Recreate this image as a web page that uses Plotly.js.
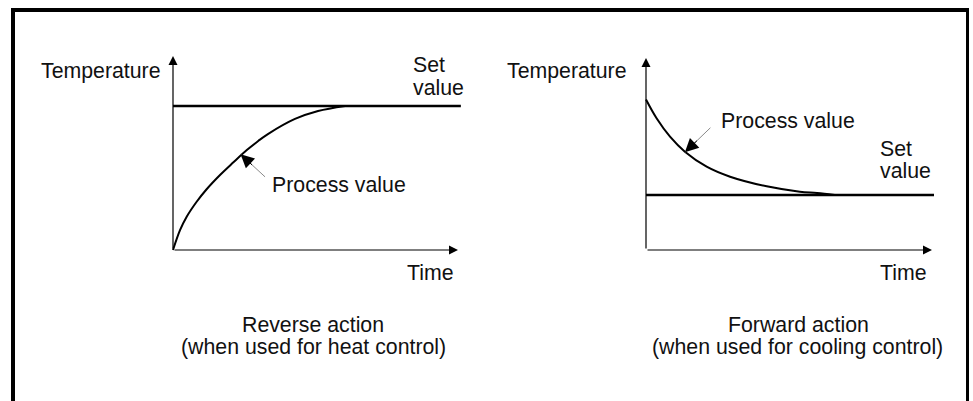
<!DOCTYPE html>
<html>
<head>
<meta charset="utf-8">
<script src="https://cdn.plot.ly/plotly-3.0.1.min.js"></script>
<style>html,body{margin:0;padding:0;background:#fff;}#chart{width:973px;height:401px;}</style>
</head>
<body>
<div id="chart"></div>
<script>
// ---- Data (arbitrary units) ----
// Reverse action (heat control)
const leftTime    = [0, 0.25, 0.48, 0.83, 1.18, 1.65, 2.12, 2.59, 2.99, 3.33, 4.28, 5.09, 6.04];
const leftProcess = [0, 13.9, 23.1, 33.5, 42.2, 52.1, 60.9, 69.4, 75.7, 80.5, 91.0, 96.5, 100];
const leftSetTime = [0, 10.1];
const leftSet     = [100, 100];
// Forward action (cooling control)
const rightTime    = [0, 0.37, 0.84, 1.36, 2.12, 2.94, 4.22, 5.38, 5.98, 6.6];
const rightProcess = [273.6, 239.5, 206, 178.7, 151.5, 133.3, 115.8, 106, 103.6, 100];
const rightSetTime = [0, 10.07];
const rightSet     = [100, 100];
// Axis extents (arrow tips)
const leftAxisEnd  = {t: 10, temp: 134.7};
const rightAxisEnd = {t: 10, temp: 349};
// Texts
const yLabel = 'Temperature';
const xLabel = 'Time';
const processLabel = 'Process value';
const setLabel = ['Set', 'value'];
const leftCaption  = ['Reverse action', '(when used for heat control)'];
const rightCaption = ['Forward action', '(when used for cooling control)'];

// ---- Layout helpers (pixel -> paper) ----
const W = 973, H = 401;
const px = x => x / W;
const py = y => 1 - y / H;
function frame(ox, oy, sx, sy, x0, x1, y0, y1) {
  return {
    xdomain: [px(x0), px(x1)], ydomain: [py(y1), py(y0)],
    xrange: [(x0 - ox) / sx, (x1 - ox) / sx],
    yrange: [(oy - y1) / sy, (oy - y0) / sy]
  };
}
const L = frame(173, 250, 28.5, 1.44, 165, 466, 48, 256);
const R = frame(646, 250, 28.6, 0.55, 638, 940, 50, 256);

const FONT = {family: 'Liberation Sans, Arial, sans-serif', size: 21.3, color: '#111'};

const traces = [
  {x: leftSetTime, y: leftSet, xaxis: 'x', yaxis: 'y', mode: 'lines', line: {color: '#000', width: 2.6}},
  {x: leftTime, y: leftProcess, xaxis: 'x', yaxis: 'y', mode: 'lines', line: {color: '#000', width: 2, shape: 'spline', smoothing: 1}},
  {x: rightSetTime, y: rightSet, xaxis: 'x2', yaxis: 'y2', mode: 'lines', line: {color: '#000', width: 2.6}},
  {x: rightTime, y: rightProcess, xaxis: 'x2', yaxis: 'y2', mode: 'lines', line: {color: '#000', width: 2, shape: 'spline', smoothing: 1}}
];

const hiddenAxis = (domain, range, anchor) => ({
  domain, range, anchor, visible: false, fixedrange: true
});

function axisArrows(xr, yr, end) {
  const base = {xref: xr, yref: yr, axref: xr, ayref: yr, text: '', showarrow: true,
    arrowhead: 2, arrowsize: 1.5, arrowwidth: 1.2, arrowcolor: '#000', standoff: 0, startstandoff: 0};
  return [
    Object.assign({}, base, {x: end.t, y: 0, ax: 0, ay: 0}),
    Object.assign({}, base, {x: 0, y: end.temp, ax: 0, ay: 0})
  ];
}
function pointer(xr, yr, x, y, dx, dy) {
  return [
    {xref: xr, yref: yr, x, y, ax: dx, ay: dy, text: '', showarrow: true, arrowhead: 0,
     arrowwidth: 1, arrowcolor: '#8a8a8a', standoff: 0},
    {xref: xr, yref: yr, x, y, ax: dx / 2, ay: dy / 2, text: '', showarrow: true, arrowhead: 2,
     arrowsize: 2.7, arrowwidth: 1, arrowcolor: '#000', standoff: 0}
  ];
}
function label(text, x, y, xanchor) {
  return {xref: 'paper', yref: 'paper', x: px(x), y: py(y + 1.5), text, showarrow: false,
    xanchor, yanchor: 'middle', font: FONT};
}

const annotations = [].concat(
  axisArrows('x', 'y', leftAxisEnd),
  axisArrows('x2', 'y2', rightAxisEnd),
  pointer('x', 'y', 2.37, 66.5, 26, 24),
  pointer('x2', 'y2', 1.36, 177.6, 27, -26),
  [
    label(yLabel, 163, 69, 'right'),
    label(setLabel[0], 411, 63, 'left'),
    label(setLabel[1], 411, 86, 'left'),
    label(processLabel, 270, 183, 'left'),
    label(xLabel, 456, 271, 'right'),
    label(leftCaption[0], 313, 323, 'center'),
    label(leftCaption[1], 313, 345.5, 'center'),

    label(yLabel, 628.5, 69, 'right'),
    label(processLabel, 718.5, 119, 'left'),
    label(setLabel[0], 877.5, 147, 'left'),
    label(setLabel[1], 877.5, 170, 'left'),
    label(xLabel, 929, 271, 'right'),
    label(rightCaption[0], 798, 323.5, 'center'),
    label(rightCaption[1], 797.5, 345.5, 'center')
  ]
);

const shapes = [
  {type: 'line', xref: 'paper', yref: 'paper', x0: px(13), x1: px(13), y0: py(8), y1: py(405), line: {color: '#000', width: 4}},
  {type: 'line', xref: 'paper', yref: 'paper', x0: px(11), x1: px(969), y0: py(10), y1: py(10), line: {color: '#000', width: 4}},
  {type: 'line', xref: 'paper', yref: 'paper', x0: px(967.5), x1: px(967.5), y0: py(8), y1: py(405), line: {color: '#000', width: 3}}
];

const layout = {
  width: W, height: H,
  margin: {l: 0, r: 0, t: 0, b: 0, pad: 0},
  paper_bgcolor: '#fff', plot_bgcolor: 'rgba(0,0,0,0)',
  showlegend: false,
  xaxis: hiddenAxis(L.xdomain, L.xrange, 'y'),
  yaxis: hiddenAxis(L.ydomain, L.yrange, 'x'),
  xaxis2: hiddenAxis(R.xdomain, R.xrange, 'y2'),
  yaxis2: hiddenAxis(R.ydomain, R.yrange, 'x2'),
  annotations, shapes,
  font: FONT
};

Plotly.newPlot('chart', traces, layout, {staticPlot: true, displayModeBar: false});
</script>
</body>
</html>
